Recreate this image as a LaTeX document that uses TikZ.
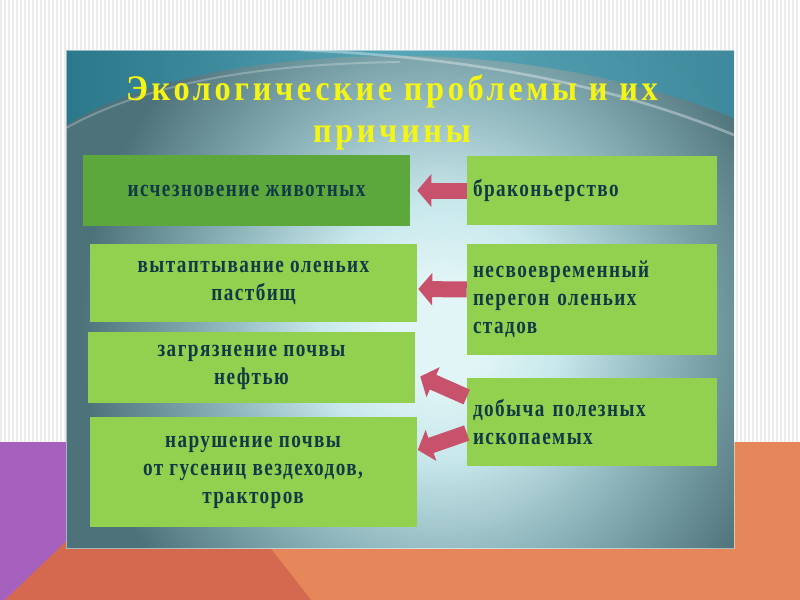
\documentclass[tikz,border=0pt]{standalone}
\usepackage{fontspec}
\setmainfont{Liberation Serif}
\newfontfamily\titlefont{Liberation Serif}[FakeStretch=0.9,LetterSpace=10]
\newfontfamily\boxfont{Liberation Serif}[FakeStretch=0.8,LetterSpace=6]
\usetikzlibrary{arrows.meta,calc}
\definecolor{stripe}{RGB}{236,236,236}
\definecolor{decopurple}{RGB}{166,96,190}
\definecolor{decocoral}{RGB}{212,105,79}
\definecolor{decoorange}{RGB}{229,135,90}
\definecolor{glowin}{RGB}{226,245,246}
\definecolor{glowa}{RGB}{200,232,236}
\definecolor{glowmid}{RGB}{140,180,186}
\definecolor{glowout}{RGB}{78,114,122}
\definecolor{tealdark}{RGB}{40,120,142}
\definecolor{teallight}{RGB}{84,166,184}
\definecolor{tealright}{RGB}{62,140,160}
\definecolor{titleyellow}{RGB}{245,245,20}
\definecolor{boxgreen}{RGB}{146,208,80}
\definecolor{boxdark}{RGB}{92,168,60}
\definecolor{boxtext}{RGB}{18,58,70}
\definecolor{arrowpink}{RGB}{200,82,108}
\pgfdeclareradialshading{slideglow}{\pgfpoint{0bp}{0bp}}{color(0bp)=(glowin); color(3bp)=(glowin); color(8bp)=(glowa); color(15bp)=(glowmid); color(24bp)=(glowout); color(50bp)=(glowout)}

\begin{document}
\begin{tikzpicture}[x=0.75pt,y=-0.75pt,
  lbox/.style={fill=boxgreen,text=boxtext,font=\boxfont\bfseries\fontsize{18}{21}\selectfont,align=center,inner sep=0pt,minimum width=245.25pt},
  rbox/.style={fill=boxgreen,text=boxtext,font=\boxfont\bfseries\fontsize{18}{21}\selectfont,align=left,text width=178.5pt,inner xsep=4.5pt,inner ysep=0pt},
  blockarrow/.style={draw=arrowpink,line width=12pt,-{Triangle[length=10.5pt,width=24pt]}}]
\useasboundingbox (0,0) rectangle (800,600);
\fill[white] (0,0) rectangle (800,600);
\foreach \x in {0,4,...,796}
  \fill[stripe] (\x,0) rectangle (\x+2,442);
\fill[decoorange] (66,442) rectangle (800,600);
\fill[decopurple] (0,442) rectangle (66,600);
\fill[decocoral] (5,600) -- (180,432) -- (311,600) -- cycle;

\begin{scope}
\clip (66,50) rectangle (734,548);
\shade[shading=slideglow] (66,-70) rectangle (814,730);
\shade[left color=tealdark,right color=tealright,middle color=teallight,opacity=0.9]
  (66,50) -- (734,50) -- (734,118) .. controls (640,80) and (520,56) .. (400,56)
  .. controls (260,56) and (140,80) .. (66,125) -- cycle;
\draw[white,opacity=0.35,line width=2pt] (300,50) .. controls (450,56) and (600,80) .. (734,135);
\draw[white,opacity=0.25,line width=1.5pt] (66,128) .. controls (150,82) and (260,64) .. (400,62);
\end{scope}
\draw[white,opacity=0.5] (66,50) rectangle (734,548);

\node (title) at (392,112.5) [text=titleyellow,font=\titlefont\bfseries\fontsize{27}{31.5}\selectfont,align=center] {Экологические проблемы и их\\причины};

\node (ischez) at (246.5,190.5) [lbox,fill=boxdark,minimum height=53.25pt] {исчезновение животных};
\node (vytapt) at (253.5,283) [lbox,minimum height=58.5pt] {вытаптывание оленьих\\пастбищ};
\node (zagryaz) at (251.5,367.5) [lbox,minimum height=53.25pt] {загрязнение почвы\\нефтью};
\node (narush) at (253,472) [lbox,minimum height=82.5pt] {нарушение почвы\\от гусениц вездеходов,\\тракторов};

\node (brakon) at (592,190.5) [rbox,minimum height=51.75pt] {браконьерство};
\node (nesvoevr) at (592,299.5) [rbox,minimum height=83.25pt] {несвоевременный\\перегон оленьих\\стадов};
\node (dobycha) at (592,422) [rbox,minimum height=66pt] {добыча полезных\\ископаемых};

\draw[blockarrow] (brakon.west) -- ($(ischez.east)+(7,0)$);
\draw[blockarrow] ($(nesvoevr.west)+(0,-10)$) -- ($(vytapt.east)+(1,6)$);
\draw[blockarrow] ($(dobycha.west)+(0,-25)$) -- ($(zagryaz.east)+(5,9)$);
\draw[blockarrow] ($(dobycha.west)+(0,11)$) -- ($(narush.east)+(1,-22)$);
\end{tikzpicture}
\end{document}
